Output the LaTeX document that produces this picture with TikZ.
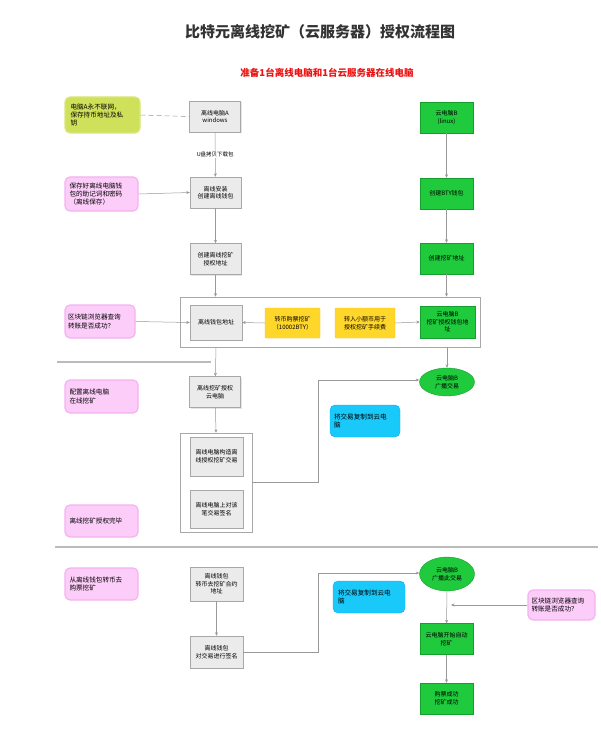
\documentclass[tikz,border=0pt]{standalone}
\usepackage{fontspec}
\setmainfont{Noto Sans CJK SC}
\XeTeXlinebreaklocale "zh"
\XeTeXlinebreakskip = 0pt plus 1pt
\usetikzlibrary{arrows.meta,shapes.geometric,shadows}
\definecolor{gbox}{HTML}{EBEBEB}
\definecolor{gline}{HTML}{A8A8A8}
\definecolor{grn}{HTML}{1FCB3C}
\definecolor{grnd}{HTML}{15A02E}
\definecolor{pnk}{HTML}{FDCDFA}
\definecolor{pnkb}{HTML}{F4B2F0}
\definecolor{ylw}{HTML}{FFD62A}
\definecolor{cyn}{HTML}{18C9FA}
\definecolor{limec}{HTML}{CFE15A}
\definecolor{sep}{HTML}{BBBBBB}
\definecolor{redt}{HTML}{EE1111}
\definecolor{titc}{HTML}{333333}
\tikzset{
  txt/.style={font=\fontsize{6}{7.6}\selectfont, align=center, inner sep=1pt},
  graybox/.style={txt, draw=gline, fill=gbox, minimum width=51, minimum height=31,
    drop shadow={opacity=0.2, shadow xshift=1pt, shadow yshift=-1pt}},
  greenbox/.style={txt, draw=grnd, fill=grn, minimum width=53, minimum height=31},
  ellbox/.style={txt, ellipse, draw=grnd, fill=grn, minimum width=55, minimum height=28},
  note/.style={font=\fontsize{6.6}{8.2}\selectfont, rounded corners=5, fill=pnk, draw=pnkb, line width=1.2pt,
    minimum width=73, minimum height=33, text width=64, align=left, inner sep=2pt},
  ylwbox/.style={txt, fill=ylw, draw=ylw!80!orange, rounded corners=1, minimum width=55, minimum height=30},
  cynbox/.style={font=\fontsize{6.6}{8.2}\selectfont, fill=cyn, draw=cyn!85!blue, rounded corners=5,
    minimum width=70, minimum height=32, text width=62, align=left, inner sep=2pt},
  grp/.style={draw=gline, line width=0.5pt},
  conn/.style={draw=gray!80, line width=0.5pt},
  arr/.style={conn, -{Stealth[length=3.5pt,width=3pt]}},
}
\begin{document}
\begin{tikzpicture}[x=1pt,y=-1pt]
\useasboundingbox (0,0) rectangle (600,746);
\fill[white] (0,0) rectangle (600,746);

% titles
\node[font=\fontsize{15}{17}\selectfont\bfseries, text=titc] (title) at (320,32) {比特元离线挖矿（云服务器）授权流程图};
\node[font=\fontsize{9.5}{11}\selectfont\bfseries, text=redt] (sub) at (327,73) {准备1台离线电脑和1台云服务器在线电脑};

% separators
\draw[sep, line width=1.2pt] (57,362) -- (211,362);
\draw[sep, line width=1.2pt] (55,547) -- (598,547);

% groups
\node[grp, minimum width=300, minimum height=50, inner sep=0] (grp1) at (330,322) {};
\node[grp, minimum width=72, minimum height=99, inner sep=0] (grp2) at (216,482.5) {};

% left column
\node[graybox] (A) at (215,116.5) {离线电脑A\\windows};
\node[graybox] (B2) at (215.5,192.5) {离线安装\\创建离线钱包};
\node[graybox] (B3) at (215.5,259) {创建离线挖矿\\授权地址};
\node[graybox, minimum width=52, minimum height=35] (B4) at (216,322.5) {离线钱包地址};
\node[graybox] (B5) at (215,392) {离线挖矿授权\\云电脑};
\node[graybox, minimum width=53, minimum height=39] (B6) at (216.5,456.5) {离线电脑构造离\\线授权挖矿交易};
\node[graybox, minimum width=53, minimum height=38] (B7) at (216.5,509) {离线电脑上对该\\笔交易签名};
\node[graybox, minimum width=53, minimum height=34] (B8) at (216.5,584) {离线钱包\\转币去挖矿合约\\地址};
\node[graybox, minimum width=53, minimum height=32] (B9) at (216.5,652) {离线钱包\\对交易进行签名};

% right column
\node[greenbox] (G1) at (446.5,117.5) {云电脑B\\(linux)};
\node[greenbox] (G2) at (446.5,193.5) {创建BTY钱包};
\node[greenbox] (G3) at (446.5,258.5) {创建挖矿地址};
\node[greenbox, minimum width=55, minimum height=32] (G4) at (447.5,322) {云电脑B\\挖矿授权钱包地\\址};
\node[ellbox] (E1) at (447,382) {云电脑B\\广播交易};
\node[ellbox, minimum height=34] (E2) at (447,574) {云电脑B\\广播此交易};
\node[greenbox] (G5) at (446.5,639) {云电脑开始自动\\挖矿};
\node[greenbox] (G6) at (446.5,698.5) {购票成功\\挖矿成功};

% yellow / cyan
\node[ylwbox] (Y1) at (292.5,323) {转币购票挖矿\\（10002BTY）};
\node[ylwbox, minimum width=60] (Y2) at (365,323) {转入小额币用于\\授权挖矿手续费};
\node[cynbox] (C1) at (365,421) {将交易复制到云电\\脑};
\node[cynbox, minimum width=72] (C2) at (369,597) {将交易复制到云电\\脑};

% notes
\node[note, fill=limec, draw=limec!80!white, minimum width=75, minimum height=36] (N0) at (102.5,115) {电脑A永不联网，\\保存持币地址及私\\钥};
\node[note, minimum height=34] (N1) at (101.5,194) {保存好离线电脑钱\\包的助记词和密码\\（离线保存）};
\node[note, minimum width=70] (N2) at (100,321.5) {区块链浏览器查询\\转账是否成功？};
\node[note] (N3) at (101.5,396.5) {配置离线电脑\\在线挖矿};
\node[note, minimum height=32] (N4) at (101.5,521) {离线挖矿授权完毕};
\node[note, minimum height=32] (N5) at (101.5,584) {从离线钱包转币去\\购票挖矿};
\node[note, minimum width=67, minimum height=30, text width=60] (N6) at (561.5,605) {区块链浏览器查询\\转账是否成功？};

% connectors
\draw[conn, dashed, dash pattern=on 5pt off 3pt] (N0.east) -- (A.west);
\draw[arr] (A) -- node[fill=white, font=\fontsize{5.5}{6}\selectfont, inner sep=1pt] {U盘拷贝下载包} (B2);
\draw[arr] (N1.east) -- (B2.west);
\draw[arr] (B2) -- (B3);
\draw[arr] (B3) -- (B3 |- grp1.north);
\draw[arr] (N2.east) -- (B4.west);
\draw[arr] (Y1.west) -- (B4.east);
\draw[arr] (Y2.east) -- (G4.west);
\draw[arr] (B4 |- grp1.south) -- (B5);
\draw[arr] (B5) -- (grp2.north);
\coordinate (k1) at (318,482.5);
\coordinate (k2) at (318,380);
\draw[arr] (grp2.east) -- (k1) -- (k2) -- (E1.west |- k2);
\draw[arr] (G1) -- (G2);
\draw[arr] (G2) -- (G3);
\draw[arr] (G3) -- (G3 |- grp1.north);
\draw[arr] (E1 |- grp1.south) -- (E1.north);
\draw[arr] (B8) -- (B9);
\coordinate (k3) at (318,652);
\coordinate (k4) at (318,573);
\draw[arr] (B9.east) -- (k3) -- (k4) -- (E2.west |- k4);
\coordinate (hit) at (451,605);
\draw[arr] (N6.west) -- (hit);
\draw[arr] (E2) -- (G5);
\draw[arr] (G5) -- (G6);
\end{tikzpicture}
\end{document}
